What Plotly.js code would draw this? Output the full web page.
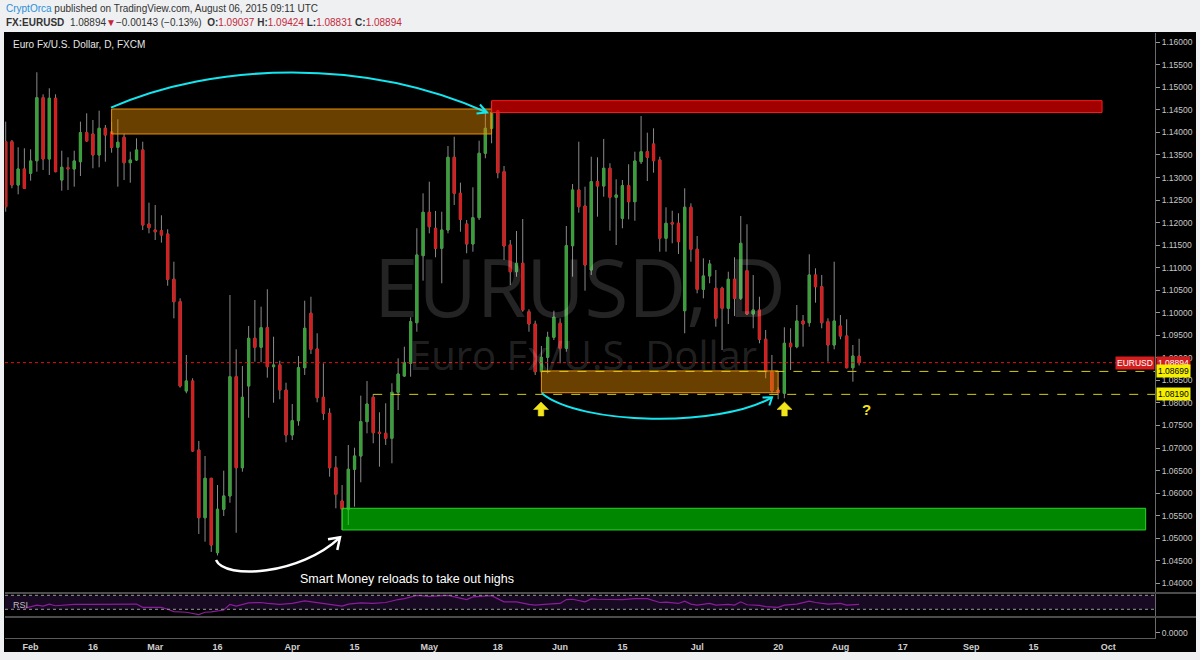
<!DOCTYPE html>
<html>
<head>
<meta charset="utf-8">
<script src="https://cdn.plot.ly/plotly-3.0.1.min.js"></script>
<style>html,body{margin:0;padding:0;background:#eef0f2;}#chart{width:1200px;height:660px;}</style>
</head>
<body>
<div id="chart"></div>
<script>
// ---------------- DATA ----------------
const dates = [
'2015-01-27','2015-01-28','2015-01-29','2015-01-30',
'2015-02-02','2015-02-03','2015-02-04','2015-02-05','2015-02-06','2015-02-09','2015-02-10','2015-02-11','2015-02-12','2015-02-13',
'2015-02-16','2015-02-17','2015-02-18','2015-02-19','2015-02-20','2015-02-23','2015-02-24','2015-02-25','2015-02-26','2015-02-27',
'2015-03-02','2015-03-03','2015-03-04','2015-03-05','2015-03-06','2015-03-09','2015-03-10','2015-03-11','2015-03-12','2015-03-13',
'2015-03-16','2015-03-17','2015-03-18','2015-03-19','2015-03-20','2015-03-23','2015-03-24','2015-03-25','2015-03-26','2015-03-27',
'2015-03-30','2015-03-31',
'2015-04-01','2015-04-02','2015-04-03','2015-04-06','2015-04-07','2015-04-08','2015-04-09','2015-04-10','2015-04-13','2015-04-14',
'2015-04-15','2015-04-16','2015-04-17','2015-04-20','2015-04-21','2015-04-22','2015-04-23','2015-04-24','2015-04-27','2015-04-28',
'2015-04-29','2015-04-30',
'2015-05-01','2015-05-04','2015-05-05','2015-05-06','2015-05-07','2015-05-08','2015-05-11','2015-05-12','2015-05-13','2015-05-14',
'2015-05-15','2015-05-18','2015-05-19','2015-05-20','2015-05-21','2015-05-22','2015-05-25','2015-05-26','2015-05-27','2015-05-28',
'2015-05-29',
'2015-06-01','2015-06-02','2015-06-03','2015-06-04','2015-06-05','2015-06-08','2015-06-09','2015-06-10','2015-06-11','2015-06-12',
'2015-06-15','2015-06-16','2015-06-17','2015-06-18','2015-06-19','2015-06-22','2015-06-23','2015-06-24','2015-06-25','2015-06-26',
'2015-06-29','2015-06-30',
'2015-07-01','2015-07-02','2015-07-03','2015-07-06','2015-07-07','2015-07-08','2015-07-09','2015-07-10','2015-07-13','2015-07-14',
'2015-07-15','2015-07-16','2015-07-17','2015-07-20','2015-07-21','2015-07-22','2015-07-23','2015-07-24','2015-07-27','2015-07-28',
'2015-07-29','2015-07-30','2015-07-31',
'2015-08-03','2015-08-04','2015-08-05','2015-08-06'
];
const openP = [
1.13795,1.13795,1.12834,1.13189,
1.13094,1.13373,1.14771,1.13411,1.14758,1.12945,1.13218,1.13189,1.13351,1.13995,
1.13966,1.13500,1.14092,1.14011,1.13671,1.13893,1.13329,1.13389,1.13611,1.11969,
1.11836,1.11820,1.11747,1.10743,1.10246,1.08265,1.08487,1.06956,1.05454,1.06328,
1.04678,1.05641,1.05936,1.08582,1.06563,1.08376,1.09434,1.09234,1.09669,1.08804,
1.08842,1.08287,
1.07289,1.07606,1.08781,1.09988,1.09197,1.08125,1.07770,1.06563,1.05824,1.05641,
1.06528,1.06823,1.07584,1.08125,1.07349,1.07326,1.07215,1.08236,1.08597,1.08879,
1.09780,1.11266,
1.12229,1.11874,1.11430,1.11836,1.13449,1.12650,1.11969,1.11526,1.12109,1.13538,
1.14092,1.14476,1.13130,1.11503,1.10911,1.11098,1.10024,1.09751,1.08693,1.09012,
1.09456,
1.09767,1.09212,1.11488,1.12724,1.12369,1.10949,1.12908,1.12812,1.13205,1.12562,
1.12096,1.12819,1.12464,1.13351,1.13573,1.13744,1.13389,1.11652,1.11998,1.11985,
1.10046,1.12340,
1.11408,1.10521,1.10816,1.10543,1.10543,1.10099,1.10743,1.10321,1.10933,1.09973,
1.10062,1.09412,1.08693,1.08287,1.08214,1.09323,1.09247,1.09818,1.09780,1.10838,
1.10578,1.09802,1.09285,
1.09707,1.09485,1.08781,1.09037
];
const highP = [
1.14239,1.13833,1.13671,1.13649,
1.13626,1.15335,1.14846,1.14980,1.14846,1.13595,1.13449,1.13595,1.14239,1.14425,
1.14276,1.14483,1.14166,1.14232,1.14292,1.13966,1.13573,1.13870,1.13795,1.12442,
1.12391,1.12162,1.11852,1.11133,1.10321,1.09063,1.08547,1.07156,1.06823,1.06335,
1.06179,1.06497,1.10394,1.09190,1.08819,1.09707,1.10283,1.10135,1.10521,1.09469,
1.08937,1.08449,
1.07976,1.09041,1.10268,1.10356,1.09545,1.08879,1.07881,1.06823,1.06179,1.07067,
1.07007,1.08161,1.08487,1.08198,1.07792,1.07992,1.08436,1.08990,1.09247,1.09900,
1.11874,1.12650,
1.12908,1.12258,1.12242,1.13700,1.13906,1.12886,1.12058,1.12783,1.13817,1.14438,
1.14682,1.14498,1.13256,1.11614,1.11814,1.12080,1.10077,1.09824,1.09263,1.09580,
1.10046,
1.09877,1.11925,1.12857,1.13795,1.12797,1.13462,1.13449,1.13855,1.13316,1.12961,
1.12945,1.13294,1.13573,1.14365,1.13995,1.14092,1.13462,1.12340,1.12264,1.12207,
1.12761,1.12428,
1.11703,1.11208,1.11171,1.10949,1.10578,1.10911,1.11231,1.12147,1.11963,1.10838,
1.10356,1.09618,1.09063,1.08347,1.09678,1.09656,1.10172,1.09950,1.11297,1.10986,
1.10838,1.09877,1.11133,
1.09950,1.09855,1.09285,1.09424
];
const lowP = [
1.12242,1.12761,1.12628,1.12750,
1.12930,1.13130,1.13167,1.13056,1.13116,1.12708,1.12724,1.12797,1.13034,1.13795,
1.13205,1.13227,1.13351,1.13551,1.12797,1.12945,1.12885,1.13367,1.11836,1.11763,
1.11614,1.11555,1.10600,1.09877,1.08340,1.08214,1.06918,1.05093,1.04922,1.04694,
1.04616,1.05492,1.05787,1.05120,1.06475,1.07672,1.08915,1.08901,1.08560,1.08005,
1.08081,1.07127,
1.07178,1.07495,1.08620,1.09086,1.08014,1.07622,1.06364,1.05663,1.05182,1.05292,
1.05698,1.06240,1.07326,1.07105,1.06586,1.07067,1.06661,1.07843,1.08582,1.08582,
1.09580,1.10712,
1.11763,1.11231,1.10654,1.11763,1.12391,1.11798,1.11320,1.11355,1.12058,1.13427,
1.13759,1.12983,1.11171,1.10616,1.10800,1.10024,1.09580,1.08620,1.08575,1.08658,
1.09396,
1.08879,1.09137,1.10800,1.12220,1.10490,1.10838,1.12131,1.12575,1.11820,1.11503,
1.11874,1.12073,1.12042,1.13300,1.12923,1.13107,1.11355,1.11355,1.11541,1.11304,
1.09545,1.11133,
1.10432,1.10321,1.10654,1.09691,1.09174,1.09751,1.09928,1.10283,1.09951,1.09655,
1.09323,1.08547,1.08214,1.08081,1.08103,1.08731,1.09212,1.09247,1.09691,1.10224,
1.09655,1.08915,1.09190,
1.09412,1.08768,1.08471,1.08831
];
const closeP = [
1.12353,1.12834,1.13189,1.12761,
1.13367,1.14771,1.13411,1.14758,1.13130,1.13227,1.13196,1.13367,1.13995,1.13811,
1.13500,1.14092,1.13944,1.13671,1.13782,1.13329,1.13389,1.13611,1.11947,1.11887,
1.11798,1.11725,1.10743,1.10246,1.08376,1.08487,1.06934,1.05454,1.06328,1.04849,
1.05641,1.05936,1.08582,1.06563,1.08125,1.09434,1.09234,1.09669,1.08804,1.08842,
1.08287,1.07289,
1.07606,1.08781,1.09656,1.09190,1.08116,1.07770,1.06563,1.05973,1.05641,1.06528,
1.06823,1.07584,1.07976,1.07340,1.07326,1.07215,1.08236,1.08642,1.08893,1.09802,
1.11282,1.12229,
1.11910,1.11430,1.11836,1.13449,1.12650,1.12073,1.11526,1.12109,1.13538,1.14092,
1.14438,1.13107,1.11481,1.10911,1.11098,1.10062,1.09751,1.08693,1.09012,1.09456,
1.09900,
1.09212,1.11488,1.12724,1.12353,1.11060,1.12908,1.12812,1.13205,1.12562,1.12613,
1.12819,1.12464,1.13367,1.13573,1.13449,1.13373,1.11652,1.11985,1.11969,1.11577,
1.12340,1.11408,
1.10521,1.10816,1.11082,1.09877,1.10099,1.10743,1.10321,1.11541,1.09973,1.10062,
1.09412,1.08693,1.08271,1.08227,1.09323,1.09247,1.09818,1.09751,1.10838,1.10578,
1.09780,1.09285,1.09818,
1.09485,1.08781,1.09041,1.08894
];
// RSI (14)
const rsiDates = ['2015-01-30','2015-02-03','2015-02-04','2015-02-05','2015-02-06','2015-02-10','2015-02-11','2015-02-16','2015-02-19','2015-02-25',
'2015-02-26','2015-03-03','2015-03-04','2015-03-05','2015-03-09','2015-03-11','2015-03-12','2015-03-13','2015-03-17','2015-03-18',
'2015-03-19','2015-03-23','2015-03-25','2015-03-26','2015-03-30','2015-04-01','2015-04-03','2015-04-07','2015-04-09','2015-04-13',
'2015-04-14','2015-04-16','2015-04-20','2015-04-22','2015-04-24','2015-04-27','2015-04-29','2015-05-01','2015-05-06','2015-05-07',
'2015-05-11','2015-05-12','2015-05-14','2015-05-15','2015-05-19','2015-05-21','2015-05-25','2015-05-26','2015-05-28','2015-06-01',
'2015-06-02','2015-06-03','2015-06-05','2015-06-08','2015-06-09','2015-06-15','2015-06-17','2015-06-19','2015-06-23','2015-06-24',
'2015-06-26','2015-06-29','2015-06-30','2015-07-01','2015-07-03','2015-07-06','2015-07-08','2015-07-09','2015-07-10','2015-07-13',
'2015-07-15','2015-07-16','2015-07-20','2015-07-21','2015-07-23','2015-07-27','2015-07-28','2015-07-30','2015-08-03','2015-08-04','2015-08-06'];
const rsiVals = [32.8,42.1,39.3,44.9,40.2,42.1,44.0,44.0,44.0,44.9,
35.6,35.6,30.0,23.5,21.6,15.1,21.6,22.6,28.1,44.0,
39.3,48.6,49.5,46.7,44.0,46.7,54.2,48.6,44.0,39.3,
44.9,48.6,46.7,49.5,57.9,60.7,70.0,67.2,70.0,65.3,
57.9,65.3,68.1,69.1,51.4,51.4,44.0,42.1,44.9,46.7,
57.9,58.8,51.4,59.8,58.8,57.9,60.7,60.7,49.5,50.5,
46.7,53.3,44.9,42.1,46.7,42.1,44.0,42.1,51.4,43.0,
41.2,37.4,35.6,42.1,44.9,53.3,49.5,44.9,46.7,42.1,44.0];

// drawn zones [start date, end date, low price, high price]
const zoneUpper  = ['2015-02-19','2015-05-15',1.13966,1.14520];
const zoneRed    = ['2015-05-15','2015-09-30',1.14443,1.14705];
const zoneLower  = ['2015-05-27','2015-07-20',1.08227,1.08710];
const zoneGreen  = ['2015-04-13','2015-10-09',1.05182,1.05663];
const lastPrice = 1.08894;
const level1 = ['2015-05-27',1.08699];
const level2 = ['2015-04-20',1.08190];

const tickDates = ['2015-02-02','2015-02-16','2015-03-02','2015-03-16','2015-04-01','2015-04-15','2015-05-01','2015-05-18','2015-06-01',
'2015-06-15','2015-07-01','2015-07-20','2015-08-03','2015-08-17','2015-09-01','2015-09-15','2015-10-01'];
const tickLabels = ['Feb','16','Mar','16','Apr','15','May','18','Jun','15','Jul','20','Aug','17','Sep','15','Oct'];

// ---------------- DRAWING ----------------
const GREEN = '#3a9f3a', RED = '#d41e1e', WICK = '#8a8a8a', YEL = '#d6cc12';
const xStart = '2015-01-26 21:18', xEnd = '2015-10-12 12:00';
const bodyHi = openP.map((o,i)=>Math.max(o,closeP[i]));
const bodyLo = openP.map((o,i)=>Math.min(o,closeP[i]));

// pixel -> paper helpers (plot area: x 5..1155, y 33..638)
const PX = X => ((X-5)/1150).toFixed(5);
const PY = Y => ((638-Y)/605).toFixed(5);
const pt = p => PX(p[0])+','+PY(p[1]);
const poly = (pts, close) => 'M' + pts.map(pt).join(' L') + (close ? ' Z' : '');
const cubic = (a,b,c,d) => 'M'+pt(a)+' C'+pt(b)+' '+pt(c)+' '+pt(d);

const traces = [
  {type:'candlestick', x:dates, open:openP, high:highP, low:lowP, close:closeP,
   increasing:{line:{color:WICK,width:1}, fillcolor:WICK},
   decreasing:{line:{color:WICK,width:1}, fillcolor:WICK},
   whiskerwidth:0, hoverinfo:'skip', showlegend:false},
  {type:'candlestick', x:dates, open:openP, high:bodyHi, low:bodyLo, close:closeP,
   increasing:{line:{color:GREEN,width:1}, fillcolor:GREEN},
   decreasing:{line:{color:RED,width:1}, fillcolor:RED},
   whiskerwidth:0, hoverinfo:'skip', showlegend:false},
  {type:'scatter', mode:'lines', x:rsiDates, y:rsiVals, yaxis:'y2',
   line:{color:'#8c1c9c', width:1.2}, hoverinfo:'skip', showlegend:false},
  {type:'scatter', mode:'lines', x:[], y:[], yaxis:'y3', hoverinfo:'skip', showlegend:false}
];

const axFont = {family:'Liberation Sans, Arial, sans-serif', size:8.5, color:'#c8c8c8'};
const box = (z, fill, line) => ({type:'rect', xref:'x', yref:'y', x0:z[0], x1:z[1], y0:z[2], y1:z[3],
  fillcolor:fill, line:{color:line, width:1}, layer:'above'});

const shapes = [
  // black chart panel
  {type:'rect', xref:'paper', yref:'paper', x0:PX(4), x1:PX(1196), y0:PY(652), y1:PY(32),
   fillcolor:'#000', line:{width:0}, layer:'below'},
  // RSI band
  {type:'rect', xref:'paper', yref:'y2', x0:0, x1:1, y0:30, y1:70, fillcolor:'#170a22', line:{width:0}, layer:'below'},
  {type:'line', xref:'paper', yref:'y2', x0:0, x1:1, y0:70, y1:70, line:{color:'#9a9a9a', width:1, dash:'dot'}},
  {type:'line', xref:'paper', yref:'y2', x0:0, x1:1, y0:30, y1:30, line:{color:'#9a9a9a', width:1, dash:'dot'}},
  // pane separators
  {type:'line', xref:'paper', yref:'paper', x0:0, x1:PX(1196), y0:PY(593), y1:PY(593), line:{color:'#4c4c4c', width:2}},
  {type:'line', xref:'paper', yref:'paper', x0:0, x1:PX(1196), y0:PY(617), y1:PY(617), line:{color:'#4c4c4c', width:2}},
  // zones
  box(zoneUpper, 'rgba(232,142,0,0.45)', '#e8900a'),
  box(zoneRed, 'rgba(255,0,0,0.63)', '#ff1a1a'),
  box(zoneLower, 'rgba(232,142,0,0.45)', '#e8900a'),
  box(zoneGreen, 'rgba(0,230,0,0.59)', '#2bd22b'),
  // last price line
  {type:'line', xref:'paper', yref:'y', x0:0, x1:1, y0:lastPrice, y1:lastPrice, line:{color:'#e01010', width:1, dash:'dot'}},
  // horizontal levels
  {type:'line', xref:'x', yref:'y', x0:level1[0], x1:xEnd, y0:level1[1], y1:level1[1], line:{color:YEL, width:1, dash:'dash'}},
  {type:'line', xref:'x', yref:'y', x0:level2[0], x1:xEnd, y0:level2[1], y1:level2[1], line:{color:YEL, width:1, dash:'dash'}},
  // cyan arcs + heads
  {type:'path', xref:'paper', yref:'paper', path:cubic([111,107.7],[215,62],[365,58],[487,112.5]), line:{color:'#14e6f0', width:2}},
  {type:'path', xref:'paper', yref:'paper', path:poly([[480,104.5],[487,112.5],[476.5,113.5]]), line:{color:'#14e6f0', width:2}},
  {type:'path', xref:'paper', yref:'paper', path:cubic([541.7,393.3],[580,425],[720,428],[772,397.3]), line:{color:'#14e6f0', width:2}},
  {type:'path', xref:'paper', yref:'paper', path:poly([[762.5,397.5],[772,397.3],[769.3,405.5]]), line:{color:'#14e6f0', width:2}},
  // white arc
  {type:'path', xref:'paper', yref:'paper', path:cubic([216,560],[225,580],[300,575],[340,537.3]), line:{color:'#ffffff', width:2.5}},
  {type:'path', xref:'paper', yref:'paper', path:poly([[328,539.3],[340,537.3],[337.3,550]]), line:{color:'#ffffff', width:2.5}},
];
// yellow up arrows
[541, 784.5].forEach(cx => {
  shapes.push({type:'path', xref:'paper', yref:'paper',
    path:poly([[cx,402],[cx+7.5,409.5],[cx+2.8,409.5],[cx+2.8,416],[cx-2.8,416],[cx-2.8,409.5],[cx-7.5,409.5]], true),
    fillcolor:'#f2e51b', line:{color:'#f2e51b', width:0.5}});
});

const hdrFont = {family:'Liberation Sans, Arial, sans-serif', size:10, color:'#333'};
const redv = s => '<span style="color:#c5283a">'+s+'</span>';
const annotations = [
  {xref:'paper', yref:'paper', x:PX(4), y:PY(9), xanchor:'left', yanchor:'middle', showarrow:false, font:hdrFont,
   text:'<span style="color:#2b8fd8">CryptOrca</span> published on TradingView.com, August 06, 2015 09:11 UTC'},
  {xref:'paper', yref:'paper', x:PX(4), y:PY(22.5), xanchor:'left', yanchor:'middle', showarrow:false, font:hdrFont,
   text:'<b>FX:EURUSD</b>\u00a0 1.08894<span style="color:#c5283a">\u25BC</span>\u22120.00143 (\u22120.13%)\u00a0 <b>O:</b>'+redv('1.09037')+' <b>H:</b>'+redv('1.09424')+' <b>L:</b>'+redv('1.08831')+' <b>C:</b>'+redv('1.08894')},
  {xref:'paper', yref:'paper', x:PX(11), y:PY(45), xanchor:'left', yanchor:'middle', showarrow:false,
   font:{family:'Liberation Sans, Arial, sans-serif', size:10, color:'#e6e6e6'}, text:'Euro Fx/U.S. Dollar, D, FXCM'},
  // watermark
  {xref:'paper', yref:'paper', x:PX(580), y:PY(286), xanchor:'center', yanchor:'middle', showarrow:false,
   font:{family:'Open Sans, sans-serif', size:80, color:'rgba(255,255,255,0.14)'}, text:'EURUSD, D'},
  {xref:'paper', yref:'paper', x:PX(583), y:PY(354), xanchor:'center', yanchor:'middle', showarrow:false,
   font:{family:'Open Sans, sans-serif', size:40, color:'rgba(255,255,255,0.14)'}, text:'Euro Fx/U.S. Dollar'},
  {xref:'paper', yref:'paper', x:PX(298), y:PY(579), xanchor:'left', yanchor:'middle', showarrow:false,
   font:{family:'Liberation Sans, Arial, sans-serif', size:12.5, color:'#ffffff'}, text:'Smart Money reloads to take out highs'},
  {xref:'paper', yref:'paper', x:PX(866.5), y:PY(409.5), xanchor:'center', yanchor:'middle', showarrow:false,
   font:{family:'Liberation Sans, Arial, sans-serif', size:15, color:'#f2e51b', weight:'bold'}, text:'?'},
  {xref:'paper', yref:'paper', x:PX(11), y:PY(605), xanchor:'left', yanchor:'middle', showarrow:false,
   font:{family:'Liberation Sans, Arial, sans-serif', size:9, color:'#bdbdbd'}, text:'RSI'},
  // axis labels
  {xref:'paper', yref:'y', x:1, y:lastPrice, xanchor:'right', yanchor:'middle', showarrow:false, bgcolor:'#d41e1e', borderpad:1,
   font:{family:'Liberation Sans, Arial, sans-serif', size:8.5, color:'#ffffff'}, text:'EURUSD'},
  {xref:'paper', yref:'y', x:PX(1156), y:lastPrice, xanchor:'left', yanchor:'middle', showarrow:false, bgcolor:'#d41e1e', borderpad:1,
   font:{family:'Liberation Sans, Arial, sans-serif', size:8.5, color:'#ffffff'}, text:lastPrice.toFixed(5)},
  {xref:'paper', yref:'y', x:PX(1156), y:level1[1], xanchor:'left', yanchor:'middle', showarrow:false, bgcolor:'#f5f000', borderpad:1,
   font:{family:'Liberation Sans, Arial, sans-serif', size:8.5, color:'#000000'}, text:level1[1].toFixed(5)},
  {xref:'paper', yref:'y', x:PX(1156), y:level2[1], xanchor:'left', yanchor:'middle', showarrow:false, bgcolor:'#f5f000', borderpad:1,
   font:{family:'Liberation Sans, Arial, sans-serif', size:8.5, color:'#000000'}, text:level2[1].toFixed(5)}
];

const layout = {
  width:1200, height:660,
  margin:{l:5, r:45, t:33, b:22, pad:0},
  paper_bgcolor:'#eef0f2', plot_bgcolor:'#000000',
  showlegend:false, hovermode:false, dragmode:false,
  boxgap:0.5,
  xaxis:{type:'date', rangebreaks:[{bounds:['sat','mon']}], range:[xStart, xEnd], anchor:'y3',
    rangeslider:{visible:false}, tickvals:tickDates, ticktext:tickLabels, ticks:'',
    tickfont:{family:'Liberation Sans, Arial, sans-serif', size:9, color:'#cfcfcf', weight:'bold'},
    showgrid:false, zeroline:false, showline:true, linecolor:'#5a5a5a', linewidth:1, fixedrange:true},
  yaxis:{domain:[0.07438,1], range:[1.037838,1.16206], side:'right', anchor:'x',
    tick0:1.04, dtick:0.005, tickformat:'.5f', ticks:'outside', ticklen:4, tickcolor:'#9a9a9a',
    tickfont:axFont, showgrid:false, zeroline:false, showline:true, linecolor:'#6a6a6a', fixedrange:true},
  yaxis2:{domain:[0.03471,0.07438], range:[8,76.6], side:'right', anchor:'x', showticklabels:false, ticks:'',
    showgrid:false, zeroline:false, showline:true, linecolor:'#6a6a6a', fixedrange:true},
  yaxis3:{domain:[0,0.03471], range:[-1,3], side:'right', anchor:'x', tickvals:[0], ticktext:['0.0000'],
    ticks:'outside', ticklen:4, tickcolor:'#9a9a9a', tickfont:axFont,
    showgrid:false, zeroline:false, showline:true, linecolor:'#6a6a6a', fixedrange:true},
  shapes:shapes, annotations:annotations
};

Plotly.newPlot('chart', traces, layout, {staticPlot:true, displayModeBar:false});
</script>
</body>
</html>
